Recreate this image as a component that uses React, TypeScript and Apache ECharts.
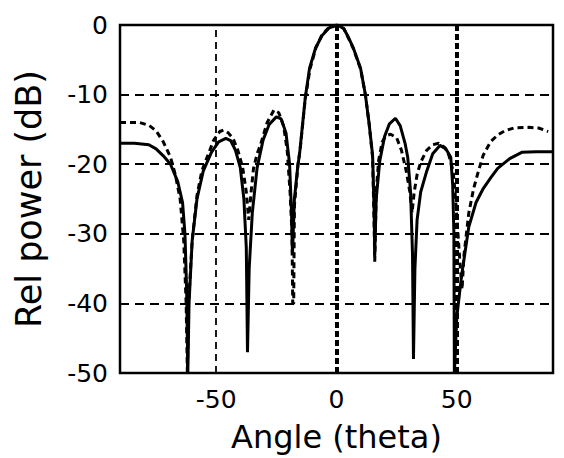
import React, { useEffect, useRef } from "react";
import * as echarts from "echarts";

// Solid curve (angle in degrees, relative power in dB)
const angleSolid = [
  -90, -84, -78, -75, -72, -69, -66, -64, -63, -62.3, -61.8,
  -61.3, -60, -58, -55.4, -52, -49, -46, -44, -42, -40, -38.5, -37.5, -37,
  -36.3, -35, -33, -30.5, -28, -25, -23, -21, -19.5, -18.7, -18.3,
  -17.5, -16, -15.4, -13, -11.2, -8.7, -6, -3, 0.4, 3, 5, 7, 10, 12, 13.5, 15, 15.6, 15.9,
  16.5, 18, 20, 22, 24.5, 26.5, 28.5, 29.6, 30.8, 31.6, 32,
  32.6, 33.5, 35, 37.5, 40, 43, 45.5, 47.5, 48.3, 48.8, 49,
  50, 52, 55, 58, 61, 64, 67, 72, 77, 83, 90,
];
const powerSolid = [
  -17, -17, -17.2, -17.8, -18.8, -20, -22.5, -25.5, -30, -38, -50,
  -40, -31, -25, -21, -18.3, -16.8, -16.3, -16.6, -18, -20.5, -25, -32, -47,
  -35, -27, -20.5, -16.5, -14.3, -13.2, -13.5, -15.5, -20, -27, -33,
  -25, -20, -18.7, -10.5, -6.2, -3.3, -1.5, -0.4, 0, -0.5, -1.8, -3.3, -6.2, -10, -14, -18.7, -26, -33,
  -25, -19.5, -16, -14.2, -13.4, -14.5, -17, -19, -24, -33, -48,
  -35, -28, -24, -21, -18.5, -17.3, -17.8, -19, -23, -30, -50,
  -42, -36, -29, -25.5, -23.5, -22, -20.6, -19.2, -18.3, -18.2, -18.2,
];

// Dashed curve
const angleDashed = [
  -90, -82, -78, -75, -72, -69, -67, -65, -63.5, -62.5, -62,
  -61.5, -60, -58, -56, -53.8, -51, -48.5, -47, -45, -43, -41, -39, -37.5, -36.5,
  -35.5, -34.5, -33, -31.7, -28.8, -26, -24, -22, -20.5, -19.3, -18.5, -18.2,
  -17.8, -17.5, -16, -15, -13, -11, -8.5, -6, -3, 0, 3, 5, 7, 10, 12, 13.5, 15, 15.6, 15.9,
  16.5, 17.5, 19, 20.5, 22.5, 25, 27, 29, 30.5, 31.4,
  32.3, 33.5, 35, 37.5, 40, 42.5, 45, 46.7, 48.5, 49.5, 50.5, 51.5, 52.2,
  53, 55, 57, 59, 61, 64, 67, 70, 73.7, 80, 84, 88,
];
const powerDashed = [
  -14, -14, -14.4, -15.2, -16.8, -19, -21.5, -25, -31, -40, -50,
  -40, -31, -24.5, -21, -19, -16.5, -15.3, -15.1, -15.5, -16.3, -18, -20.5, -24, -28,
  -24, -20.6, -18.5, -17.3, -14, -12.2, -12.6, -14.5, -18, -24, -30, -40,
  -40, -26, -20, -17.5, -10.6, -6.3, -3.2, -1.4, -0.3, 0, -0.5, -1.9, -3.4, -6.3, -10, -14, -19, -28, -34,
  -24, -19.5, -16.8, -15.9, -15.7, -16.2, -18, -21, -24, -27,
  -24, -21.5, -19.7, -18, -17.2, -17, -17.6, -18.7, -21, -25, -30, -35, -38,
  -33, -27, -23.5, -21, -18.7, -16.8, -15.8, -15.2, -14.8, -14.7, -14.8, -15.3,
];

const xTickLabels = [-50, 0, 50];
const vGridLines = [-50, 0, 50];

export default function App() {
  const ref = useRef<HTMLDivElement>(null);
  useEffect(() => {
    if (!ref.current) return;
    const chart = echarts.init(ref.current, undefined, { renderer: "svg" });
    const font = "DejaVu Sans";
    const solidData = angleSolid.map((a, i) => [a, powerSolid[i]]);
    const dashedData = angleDashed.map((a, i) => [a, powerDashed[i]]);
    const vLineStyles = [
      { color: "#000", width: 1.8, type: [7, 5] },
      { color: "#000", width: 4, type: [6, 3] },
      { color: "#000", width: 4, type: [6, 3] },
    ];
    chart.setOption({
      animation: false,
      backgroundColor: "#fff",
      grid: {
        left: 120,
        right: 11,
        top: 25,
        bottom: 84,
        show: true,
        borderColor: "#000",
        borderWidth: 2.5,
        backgroundColor: "transparent",
      },
      xAxis: {
        type: "value",
        min: -90,
        max: 90,
        interval: 10,
        axisLine: { show: false },
        axisTick: { show: false },
        splitLine: { show: false },
        axisLabel: {
          color: "#000",
          fontFamily: font,
          fontSize: 25,
          margin: 14,
          formatter: (v: number) => (xTickLabels.includes(v) ? String(v) : ""),
        },
        name: "Angle (theta)",
        nameLocation: "middle",
        nameGap: 48,
        nameTextStyle: { color: "#000", fontFamily: font, fontSize: 32 },
      },
      yAxis: {
        type: "value",
        min: -50,
        max: 0,
        interval: 10,
        axisLine: { show: false },
        axisTick: { show: false },
        splitLine: {
          show: true,
          lineStyle: { color: "#000", width: 2, type: [9, 6] },
        },
        axisLabel: {
          color: "#000",
          fontFamily: font,
          fontSize: 25,
          margin: 12,
        },
        name: "Rel power (dB)",
        nameLocation: "middle",
        nameGap: 74,
        nameTextStyle: { color: "#000", fontFamily: font, fontSize: 35 },
      },
      series: [
        {
          type: "line",
          name: "solid",
          data: solidData,
          showSymbol: false,
          symbol: "none",
          lineStyle: { color: "#000", width: 3, type: "solid" },
          z: 3,
          markLine: {
            silent: true,
            symbol: "none",
            label: { show: false },
            data: vGridLines.map((v, i) => ({ xAxis: v, lineStyle: vLineStyles[i] })),
          },
        },
        {
          type: "line",
          name: "dashed",
          data: dashedData,
          showSymbol: false,
          symbol: "none",
          lineStyle: { color: "#000", width: 3, type: [6, 4] },
          z: 4,
        },
      ],
    });
    return () => chart.dispose();
  }, []);
  return (
    <div
      ref={ref}
      style={{ position: "fixed", left: 0, top: 0, width: 564, height: 458, background: "#fff" }}
    />
  );
}
